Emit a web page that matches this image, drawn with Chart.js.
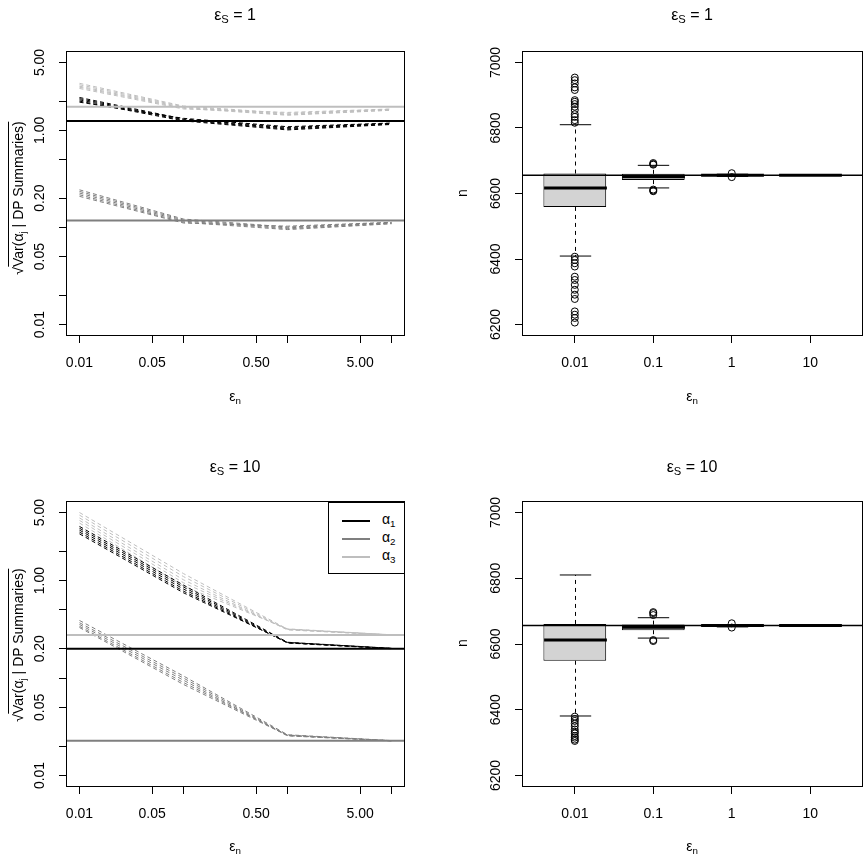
<!DOCTYPE html>
<html>
<head>
<meta charset="utf-8">
<script src="https://cdn.jsdelivr.net/npm/chart.js@4.4.0/dist/chart.umd.min.js"></script>
<style>
  body { margin: 0; background: #fff; }
  #page { position: relative; width: 868px; height: 861px; font-family: "Liberation Sans", Arial, sans-serif; color: #000; overflow: hidden; }
  .panel { position: absolute; }
  .lbl { position: absolute; white-space: nowrap; transform: translate(-50%, -50%); font-size: 14px; line-height: 1; }
  .rot { transform: translate(-50%, -50%) rotate(-90deg); }
  .title { font-size: 16px; }
  sub { font-size: 70%; vertical-align: -0.3em; line-height: 0; }
  .ol { border-top: 1px solid #000; padding-top: 1px; }
  .legend { position: absolute; box-sizing: border-box; border: 1px solid #000; background: #fff; font-size: 14px; }
  .legend .row { position: absolute; left: 0; height: 0; }
  .legend .swatch { position: absolute; left: 13px; width: 28px; height: 2px; top: -1px; }
  .legend .txt { position: absolute; left: 53px; top: -9px; white-space: nowrap; line-height: 1; }
</style>
</head>
<body>
<div id="page">
  <canvas id="tl" class="panel" style="left:0;top:0" width="434" height="430"></canvas>
  <canvas id="tr" class="panel" style="left:434px;top:0" width="434" height="430"></canvas>
  <canvas id="bl" class="panel" style="left:0;top:430px" width="434" height="431"></canvas>
  <canvas id="br" class="panel" style="left:434px;top:430px" width="434" height="431"></canvas>

  <div class="lbl title" style="left:235px;top:14.5px">ε<sub>S</sub> = 1</div>
  <div class="lbl title" style="left:692px;top:14.5px">ε<sub>S</sub> = 1</div>
  <div class="lbl title" style="left:235px;top:466.5px">ε<sub>S</sub> = 10</div>
  <div class="lbl title" style="left:692px;top:466.5px">ε<sub>S</sub> = 10</div>

  <div class="lbl" style="left:235px;top:396px">ε<sub>n</sub></div>
  <div class="lbl" style="left:692px;top:396px">ε<sub>n</sub></div>
  <div class="lbl" style="left:235px;top:846px">ε<sub>n</sub></div>
  <div class="lbl" style="left:692px;top:846px">ε<sub>n</sub></div>

  <div class="lbl rot" style="left:17.5px;top:198px">√<span class="ol">Var(α<sub>j</sub> | DP Summaries)</span></div>
  <div class="lbl rot" style="left:17.5px;top:645px">√<span class="ol">Var(α<sub>j</sub> | DP Summaries)</span></div>
  <div class="lbl rot" style="left:462px;top:193px">n</div>
  <div class="lbl rot" style="left:462px;top:643px">n</div>

  <div id="legend" class="legend" style="left:328px;top:502px;width:77px;height:72px"></div>
</div>

<script>
const FONT = "'Liberation Sans', Arial, Helvetica, sans-serif";

// x values of the simulation grid
const epsN = [0.01, 0.1, 1, 10];
const epsNLabels = ['0.01', '0.1', '1', '10'];
const alphaColors = ['#000000', '#7f7f7f', '#bebebe'];
const alphaSubs = ['1', '2', '3'];

// tick labels
const logXTicks = [0.01, 0.05, 0.1, 0.5, 1, 5, 10];
const logXTickText = ['0.01', '0.05', '', '0.50', '', '5.00', ''];
const logYTicks = [0.01, 0.02, 0.05, 0.1, 0.2, 0.5, 1, 2, 5];
const logYTickText = ['0.01', '', '0.05', '', '0.20', '', '1.00', '', '5.00'];
const nTicks = [6200, 6400, 6600, 6800, 7000];

// posterior sd, eps_S = 1 (five runs per coefficient, one value per epsN)
const sdS1A1 = [[2.18, 1.31, 1.07, 1.18], [2.12, 1.29, 1.05, 1.17], [2.06, 1.27, 1.03, 1.16], [2.00, 1.25, 1.01, 1.15], [1.95, 1.33, 1.09, 1.19]];
const sdS1A2 = [[0.244, 0.122, 0.101, 0.112], [0.235, 0.119, 0.099, 0.111], [0.226, 0.116, 0.097, 0.110], [0.217, 0.113, 0.095, 0.109], [0.209, 0.111, 0.103, 0.113]];
const sdS1A3 = [[3.05, 1.78, 1.50, 1.65], [2.95, 1.75, 1.47, 1.64], [2.85, 1.72, 1.45, 1.62], [2.78, 1.69, 1.43, 1.61], [2.70, 1.66, 1.53, 1.66]];
const trueS1 = [1.25, 0.118, 1.75];

// posterior sd, eps_S = 10
const sdS10A1 = [[3.60, 0.90, 0.233, 0.202], [3.45, 0.86, 0.231, 0.201], [3.30, 0.82, 0.229, 0.200], [3.15, 0.78, 0.230, 0.201], [3.02, 0.75, 0.232, 0.202]];
const sdS10A2 = [[0.39, 0.105, 0.0262, 0.0228], [0.37, 0.100, 0.0258, 0.0227], [0.355, 0.095, 0.0255, 0.0226], [0.34, 0.090, 0.0260, 0.0228], [0.33, 0.086, 0.0257, 0.0227]];
const sdS10A3 = [[5.00, 1.18, 0.318, 0.278], [4.70, 1.10, 0.315, 0.277], [4.40, 1.02, 0.312, 0.276], [4.15, 0.95, 0.316, 0.277], [3.90, 0.88, 0.320, 0.278]];
const trueS10 = [0.2, 0.0227, 0.276];

// DP count n: [lower whisker, Q1, median, Q3, upper whisker] per epsN
const nTrue = 6656;
const nBoxS1 = [[6409, 6559, 6617, 6661, 6810], [6617, 6641, 6651, 6660, 6686], [6652, 6654, 6656, 6657, 6659], [6655, 6655.5, 6656, 6656.5, 6657]];
const nOutS1 = [
  [6954, 6946, 6936, 6924, 6916, 6885, 6880, 6873, 6865, 6855, 6842, 6834, 6824, 6816,
   6407, 6397, 6387, 6377, 6346, 6336, 6321, 6306, 6291, 6278, 6240, 6230, 6220, 6206],
  [6693, 6690, 6688, 6612, 6609, 6607],
  [6662, 6650],
  []
];
const nBoxS10 = [[6381, 6549, 6612, 6661, 6810], [6618, 6642, 6651, 6659, 6680], [6652, 6654, 6656, 6657, 6659], [6655, 6655.5, 6656, 6656.5, 6657]];
const nOutS10 = [
  [6379, 6372, 6366, 6358, 6350, 6340, 6333, 6328, 6320, 6315, 6309, 6305],
  [6697, 6694, 6688, 6612, 6609],
  [6663, 6650],
  []
];

// R style axis range: limits widened by 4% each side
function logRange(lo, hi) {
  const a = Math.log10(lo), b = Math.log10(hi), e = (b - a) * 0.04;
  return [Math.pow(10, a - e), Math.pow(10, b + e)];
}
function linRange(lo, hi) {
  const e = (hi - lo) * 0.04;
  return [lo - e, hi + e];
}

const frame = {
  id: 'frame',
  afterDraw(chart) {
    const {ctx, chartArea: a} = chart;
    ctx.save();
    ctx.strokeStyle = '#000';
    ctx.lineWidth = 1;
    ctx.strokeRect(Math.round(a.left) - 0.5, Math.round(a.top) - 0.5, Math.round(a.right - a.left) + 1, Math.round(a.bottom - a.top) + 1);
    ctx.restore();
  }
};

function hlines(values, colors, width) {
  return {
    id: 'hlines',
    afterDatasetsDraw(chart) {
      const {ctx, chartArea: a, scales: {y}} = chart;
      ctx.save();
      ctx.lineWidth = width;
      values.forEach((v, i) => {
        const py = y.getPixelForValue(v);
        ctx.strokeStyle = colors[i];
        ctx.beginPath();
        ctx.moveTo(a.left, py);
        ctx.lineTo(a.right, py);
        ctx.stroke();
      });
      ctx.restore();
    }
  };
}

function whiskers(stats) {
  return {
    id: 'whiskers',
    afterDatasetsDraw(chart) {
      const {ctx, scales: {x, y}} = chart;
      const seg = (x1, y1, x2, y2) => { ctx.beginPath(); ctx.moveTo(x1, y1); ctx.lineTo(x2, y2); ctx.stroke(); };
      ctx.save();
      ctx.strokeStyle = '#000';
      stats.forEach((s, i) => {
        const cx = Math.round(x.getPixelForValue(i + 1)) + 0.5;
        const staple = x.getPixelForValue(i + 1.2) - x.getPixelForValue(i + 1);
        const half = x.getPixelForValue(i + 1.4) - x.getPixelForValue(i + 1);
        const py = s.map(v => y.getPixelForValue(v));
        ctx.lineWidth = 1;
        ctx.setLineDash([4, 4]);
        seg(cx, py[3], cx, py[4]);
        seg(cx, py[1], cx, py[0]);
        ctx.setLineDash([]);
        seg(cx - staple, py[4], cx + staple, py[4]);
        seg(cx - staple, py[0], cx + staple, py[0]);
        ctx.lineWidth = 3;
        seg(cx - half, py[2], cx + half, py[2]);
      });
      ctx.restore();
    }
  };
}

const tickFont = {family: FONT, size: 14};

function xAxisBase(geo) {
  return {
    bounds: 'data',
    offset: false,
    border: {display: false},
    grid: {drawOnChartArea: false, drawTicks: true, tickLength: 8, color: '#000', offset: false},
    ticks: {autoSkip: false, maxRotation: 0, minRotation: 0, padding: 12, color: '#000', font: tickFont},
    afterFit: ax => { ax.height = geo.h - geo.b; }
  };
}
function yAxisBase(geo, pad) {
  return {
    bounds: 'data',
    border: {display: false},
    grid: {drawOnChartArea: false, drawTicks: true, tickLength: 8, color: '#000'},
    ticks: {autoSkip: false, minRotation: 90, maxRotation: 90, crossAlign: 'center', padding: pad, color: '#000', font: tickFont},
    afterFit: ax => { ax.width = geo.l; }
  };
}

function linePanel(id, geo, groups, truth) {
  const datasets = [];
  groups.forEach((runs, a) => {
    runs.forEach(run => {
      datasets.push({
        data: epsN.map((x, k) => ({x: x, y: run[k]})),
        borderColor: alphaColors[a],
        borderWidth: 1,
        borderDash: [4, 3],
        pointRadius: 0,
        fill: false,
        tension: 0
      });
    });
  });
  const xr = logRange(0.01, 10);
  const yr = logRange(0.01, 5);
  const x = Object.assign(xAxisBase(geo), {
    type: 'logarithmic', min: xr[0], max: xr[1],
    afterBuildTicks: ax => { ax.ticks = logXTicks.map(v => ({value: v})); }
  });
  x.ticks.callback = (v, i) => logXTickText[i];
  const y = Object.assign(yAxisBase(geo, 5.5), {
    type: 'logarithmic', min: yr[0], max: yr[1],
    afterBuildTicks: ax => { ax.ticks = logYTicks.map(v => ({value: v})); }
  });
  y.ticks.callback = (v, i) => logYTickText[i];

  new Chart(document.getElementById(id), {
    type: 'line',
    data: {datasets},
    options: {
      responsive: false,
      animation: false,
      events: [],
      layout: {padding: {left: 0, top: geo.t, right: geo.w - geo.r, bottom: 0}},
      plugins: {legend: {display: false}, tooltip: {enabled: false}},
      scales: {x, y}
    },
    plugins: [hlines(truth, alphaColors, 2), frame]
  });
}

function boxPanel(id, geo, stats, outliers) {
  const boxes = stats.map((s, i) => ({x: i + 1, y: [s[1], s[3]]}));
  const pts = [];
  outliers.forEach((list, i) => list.forEach(v => pts.push({x: i + 1, y: v})));
  const xr = linRange(0.5, epsNLabels.length + 0.5);
  const yr = linRange(6200, 7000);
  const x = Object.assign(xAxisBase(geo), {
    type: 'linear', min: xr[0], max: xr[1],
    afterBuildTicks: ax => { ax.ticks = epsNLabels.map((_, i) => ({value: i + 1})); }
  });
  x.ticks.callback = (v, i) => epsNLabels[i];
  const y = Object.assign(yAxisBase(geo, 3), {
    type: 'linear', min: yr[0], max: yr[1],
    afterBuildTicks: ax => { ax.ticks = nTicks.map(v => ({value: v})); }
  });
  y.ticks.callback = v => String(v);

  new Chart(document.getElementById(id), {
    type: 'bar',
    data: {
      datasets: [
        {type: 'scatter', data: pts, pointStyle: 'circle', pointRadius: 3.5, borderColor: '#000', backgroundColor: 'rgba(0,0,0,0)', borderWidth: 1},
        {type: 'bar', data: boxes, backgroundColor: '#d3d3d3', borderColor: '#000', borderWidth: 1, borderSkipped: false, categoryPercentage: 1, barPercentage: 0.8}
      ]
    },
    options: {
      responsive: false,
      animation: false,
      events: [],
      layout: {padding: {left: 0, top: geo.t, right: geo.w - geo.r, bottom: 0}},
      plugins: {legend: {display: false}, tooltip: {enabled: false}},
      scales: {x, y}
    },
    plugins: [whiskers(stats), hlines([nTrue], ['#000'], 1.5), frame]
  });
}

linePanel('tl', {l: 67, t: 52, r: 404, b: 335, w: 434, h: 430}, [sdS1A1, sdS1A2, sdS1A3], trueS1);
boxPanel('tr', {l: 89, t: 52, r: 428, b: 335, w: 434, h: 430}, nBoxS1, nOutS1);
linePanel('bl', {l: 67, t: 72, r: 404, b: 356, w: 434, h: 431}, [sdS10A1, sdS10A2, sdS10A3], trueS10);
boxPanel('br', {l: 89, t: 72, r: 428, b: 356, w: 434, h: 431}, nBoxS10, nOutS10);

// legend for the alpha coefficients
const legend = document.getElementById('legend');
const rowY = [18, 35.5, 53.5];
alphaColors.forEach((c, i) => {
  const row = document.createElement('div');
  row.className = 'row';
  row.style.top = rowY[i] + 'px';
  row.innerHTML = '<div class="swatch" style="background:' + c + '"></div><div class="txt">α<sub>' + alphaSubs[i] + '</sub></div>';
  legend.appendChild(row);
});
</script>
</body>
</html>
